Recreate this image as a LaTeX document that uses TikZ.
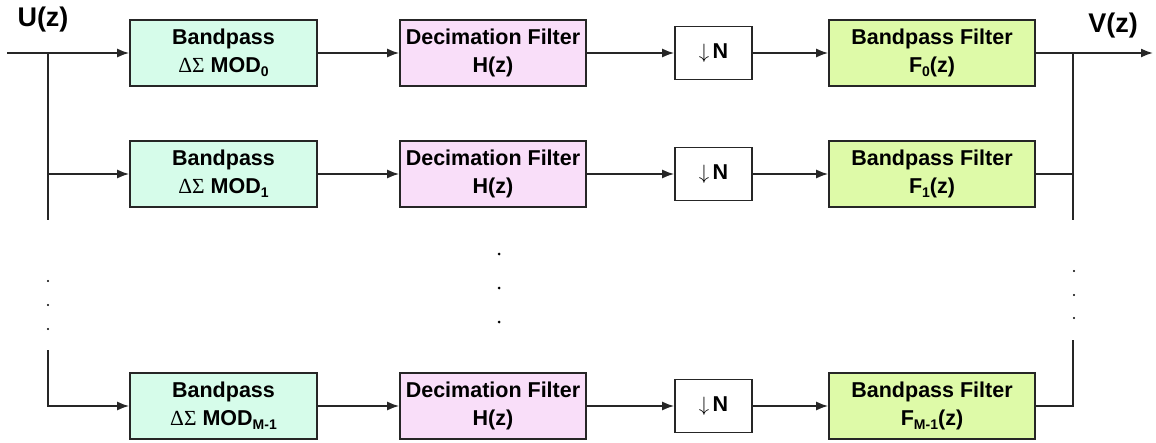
\documentclass[tikz,border=0pt]{standalone}
\usepackage{fontspec}
\setmainfont{Liberation Sans}
\newfontfamily\grk{Liberation Serif}
\usetikzlibrary{arrows.meta}
\definecolor{modfill}{RGB}{214,252,234}
\definecolor{decfill}{RGB}{249,222,249}
\definecolor{bpffill}{RGB}{222,250,168}
\newcommand\lowidx[1]{\raisebox{-0.35ex}{\fontsize{14}{14}\selectfont #1}}
\newcommand\dsig{{\grk\mdseries\char"0394\char"03A3}}
\begin{document}
\begin{tikzpicture}[x=1pt,y=-1pt,
  blk/.style={draw=black!85, line width=1.7pt, align=center, inner sep=0pt,
              font=\bfseries\fontsize{21.5}{28}\selectfont},
  modbox/.style={blk, fill=modfill, minimum width=187pt, minimum height=66pt},
  decbox/.style={blk, fill=decfill, minimum width=186pt, minimum height=66pt},
  dnbox/.style={blk, fill=white, minimum width=77pt, minimum height=53pt},
  bpfbox/.style={blk, fill=bpffill, minimum width=206pt, minimum height=66pt},
  wire/.style={line width=1.7pt, draw=black!85},
  sig/.style={wire, -{Latex[length=12pt,width=9pt]}},
  sigtext/.style={font=\bfseries\fontsize{27}{27}\selectfont, inner sep=0pt},
  smalldot/.style={fill=black, radius=1.1pt},
  bigdot/.style={fill=black, radius=1.5pt},
]
\fill[white] (0,0) rectangle (1156,442);
\useasboundingbox (0,0) rectangle (1156,442);

% rows of the filter bank
\foreach \r/\y/\k in {0/53/0, 1/174/1, 2/406/M-1}{
  \node[modbox] (mod\r) at (223.5,\y) {Bandpass\\\dsig\ MOD\lowidx{\k}};
  \node[decbox] (dec\r) at (493,\y) {Decimation Filter\\H(z)};
  \node[dnbox]  (dn\r)  at (713.5,\y) {$\downarrow$\,N};
  \node[bpfbox] (bpf\r) at (932,\y) {Bandpass Filter\\F\lowidx{\k}(z)};
  \draw[sig] (mod\r) -- (dec\r);
  \draw[sig] (dec\r) -- (dn\r);
  \draw[sig] (dn\r) -- (bpf\r);
}

% signal labels
\node[sigtext] (ulab) at (43,20) {U(z)};
\node[sigtext] (vlab) at (1113,26) {V(z)};

% input bus
\coordinate (uin) at (7,53);
\coordinate (lb0) at (48,53);
\coordinate (lb1) at (48,174);
\coordinate (lbtop) at (48,220);
\coordinate (lbbot) at (48,350);
\draw[sig] (uin) -- (mod0);
\draw[wire] (lb0) -- (lbtop);
\draw[sig] (lb1) -- (mod1);
\draw[sig] (lbbot) |- (mod2);

% output bus
\coordinate (rb0) at (1073,53);
\coordinate (rb1) at (1073,174);
\coordinate (rbtop) at (1073,220);
\coordinate (rbbot) at (1073,340);
\coordinate (vout) at (1153,53);
\draw[wire] (bpf0) -- (rb0);
\draw[sig] (rb0) -- (vout);
\draw[wire] (rb0) -- (rbtop);
\draw[wire] (bpf1) -- (rb1);
\draw[wire] (bpf2) -| (rbbot);

% continuation dots
\foreach \yy in {281,305,329} \fill[smalldot] (48,\yy) circle;
\foreach \yy in {271,295,318} \fill[smalldot] (1074,\yy) circle;
\foreach \yy in {254,288,322} \fill[bigdot] (499,\yy) circle;
\end{tikzpicture}
\end{document}
